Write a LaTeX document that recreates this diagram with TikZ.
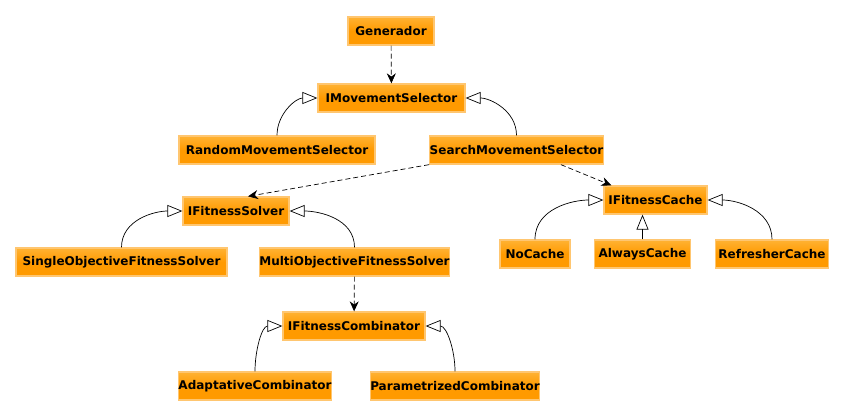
\documentclass[tikz,border=0pt]{standalone}
\usepackage{fontspec}
\setmainfont{DejaVu Sans}
\usepackage{tikz}
\usetikzlibrary{arrows.meta,calc,positioning}
\definecolor{boxfill}{HTML}{FF9A00}
\definecolor{boxtop}{HTML}{FFB233}
\definecolor{boxedge}{HTML}{FFC670}

\begin{document}
\begin{tikzpicture}[x=1pt,y=1pt,
  cls/.style={draw=boxedge,line width=1.3pt,top color=boxtop,bottom color=boxfill,middle color=boxfill,
    minimum height=28pt,inner xsep=0pt,font=\fontsize{12}{14}\selectfont\bfseries},
  inherit/.style={-{Triangle[open,length=15pt,width=12pt]},line width=0.7pt},
  uses/.style={-{Stealth[length=10pt,width=9pt]},dashed,dash pattern=on 5pt off 3pt,line width=0.7pt}]
  \useasboundingbox (0,0) rectangle (845,-416);
  \node[cls,minimum width=86pt] (gen) at (391,-31) {Generador};
  \node[cls,minimum width=147pt] (ims) at (391.5,-98) {IMovementSelector};
  \node[cls,minimum width=196pt] (rms) at (277,-150) {RandomMovementSelector};
  \node[cls,minimum width=173pt] (sms) at (516.5,-150) {SearchMovementSelector};
  \node[cls,minimum width=106pt] (ifs) at (236,-211) {IFitnessSolver};
  \node[cls,minimum width=103pt] (ifc) at (655.5,-200) {IFitnessCache};
  \node[cls,minimum width=211pt] (sofs) at (121.5,-262) {SingleObjectiveFitnessSolver};
  \node[cls,minimum width=188pt] (mofs) at (354.5,-262) {MultiObjectiveFitnessSolver};
  \node[cls,minimum width=70pt] (noc) at (535,-254) {NoCache};
  \node[cls,minimum width=96pt] (alc) at (642.5,-254) {AlwaysCache};
  \node[cls,minimum width=113pt] (rfc) at (772,-254) {RefresherCache};
  \node[cls,minimum width=142pt] (icomb) at (354,-326) {IFitnessCombinator};
  \node[cls,minimum width=153pt] (adc) at (255,-386) {AdaptativeCombinator};
  \node[cls,minimum width=168pt] (pac) at (455,-386) {ParametrizedCombinator};
  % dependencies
  \draw[uses] (gen) -- (ims);
  \draw[uses] (sms.south west) -- ([xshift=12pt]ifs.north);
  \draw[uses] ([xshift=-43pt]sms.south east) -- ([xshift=8pt]ifc.north west);
  \draw[uses] (mofs) -- (icomb);
  % realizations
  \draw[inherit] (rms.north) to[out=90,in=180] (ims.west);
  \draw[inherit] (sms.north) to[out=90,in=0] (ims.east);
  \draw[inherit] (sofs.north) to[out=90,in=180] (ifs.west);
  \draw[inherit] (mofs.north) to[out=90,in=0] (ifs.east);
  \draw[inherit] (noc.north) to[out=90,in=180] (ifc.west);
  \draw[inherit] (alc.north) -- (ifc.south -| alc.north);
  \draw[inherit] (rfc.north) to[out=90,in=0] (ifc.east);
  \draw[inherit] (adc.north) to[out=90,in=180] (icomb.west);
  \draw[inherit] (pac.north) to[out=90,in=0] (icomb.east);
\end{tikzpicture}
\end{document}
